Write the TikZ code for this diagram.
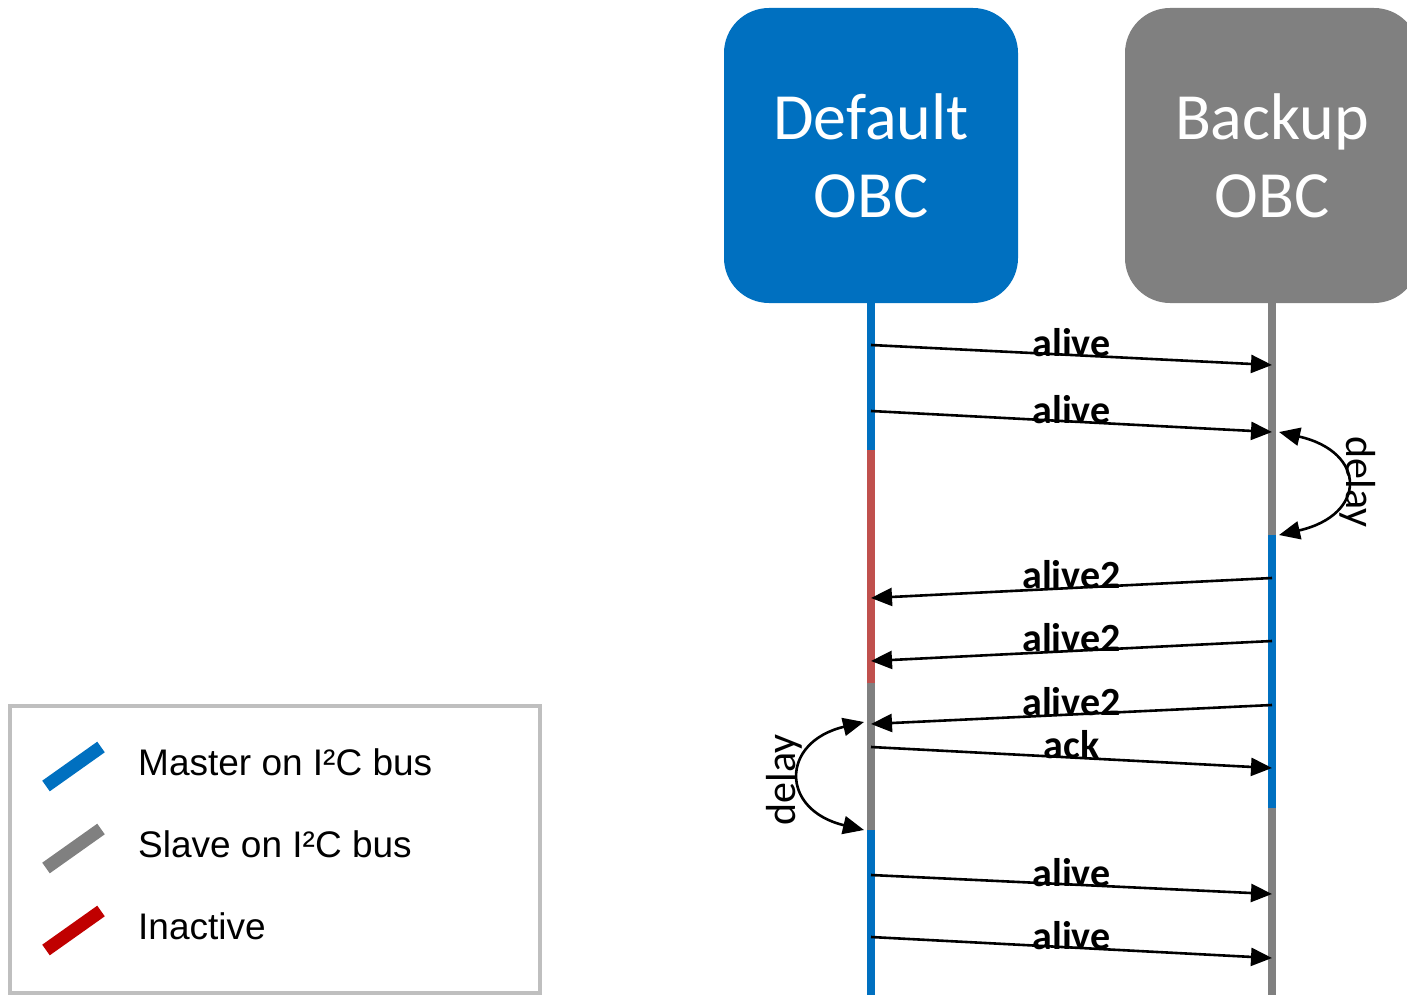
\documentclass[tikz,border=0pt]{standalone}
\usepackage{fontspec}
\setmainfont{Carlito}
\newfontfamily\arialfont{Liberation Sans}
\usetikzlibrary{arrows.meta}
\definecolor{obcblue}{HTML}{0070C0}
\definecolor{obcgray}{HTML}{808080}
\definecolor{lifered}{HTML}{C0504D}
\definecolor{legred}{HTML}{C00000}
\definecolor{legframe}{HTML}{BFBFBF}
\tikzset{
  obcbox/.style={rounded corners=45pt, minimum width=294pt, minimum height=295pt, inner sep=0pt,
    text=white, font=\fontsize{66}{78}\selectfont, align=center},
  life/.style={line width=8pt},
  msg/.style={line width=2.6pt, -{Triangle[length=21pt,width=18pt]}},
  delayarc/.style={line width=2.6pt, {Triangle[length=21pt,width=18pt]}-{Triangle[length=21pt,width=18pt]}},
  msglabel/.style={font=\bfseries\fontsize{40}{42}\selectfont, anchor=base, inner sep=0pt},
  delaylabel/.style={font=\fontsize{42}{44}\selectfont, inner sep=0pt},
  legbar/.style={line width=13pt},
  legtext/.style={font=\arialfont\fontsize{37}{40}\selectfont, anchor=base west, inner sep=0pt}
}
\begin{document}
\begin{tikzpicture}[x=1pt,y=-1pt]
\useasboundingbox (0,0) rectangle (1407,995);
\clip (0,0) rectangle (1407,995);
% boxes
\node[obcbox, fill=obcblue] (def) at (871,155.5) {Default\\OBC};
\node[obcbox, fill=obcgray] (bak) at (1272,155.5) {Backup\\OBC};
% lifelines
\coordinate (L0) at (871,303);
\coordinate (L1) at (871,450);
\coordinate (L2) at (871,683);
\coordinate (L3) at (871,830);
\coordinate (L4) at (871,995);
\coordinate (R0) at (1272,303);
\coordinate (R1) at (1272,535);
\coordinate (R2) at (1272,808);
\coordinate (R3) at (1272,995);
\draw[life, obcblue] (L0) -- (L1);
\draw[life, lifered] (L1) -- (L2);
\draw[life, obcgray] (L2) -- (L3);
\draw[life, obcblue] (L3) -- (L4);
\draw[life, obcgray] (R0) -- (R1);
\draw[life, obcblue] (R1) -- (R2);
\draw[life, obcgray] (R2) -- (R3);
% message end points
\coordinate (a1s) at (871,345); \coordinate (a1e) at (1272,365);
\coordinate (a2s) at (871,411); \coordinate (a2e) at (1272,432);
\coordinate (b1s) at (1272,578); \coordinate (b1e) at (871,598);
\coordinate (b2s) at (1272,641); \coordinate (b2e) at (871,661);
\coordinate (b3s) at (1272,705); \coordinate (b3e) at (871,724);
\coordinate (cks) at (871,747); \coordinate (cke) at (1272,768);
\coordinate (a3s) at (871,875); \coordinate (a3e) at (1272,894);
\coordinate (a4s) at (871,937); \coordinate (a4e) at (1272,958);
\draw[msg] (a1s) -- node[msglabel, yshift=-1pt] (t1) {alive} (a1e);
\draw[msg] (a2s) -- node[msglabel, yshift=-2pt] (t2) {alive} (a2e);
\draw[msg] (b1s) -- node[msglabel, yshift=0pt] (t3) {alive2} (b1e);
\draw[msg] (b2s) -- node[msglabel, yshift=0pt] (t4) {alive2} (b2e);
\draw[msg] (b3s) -- node[msglabel, yshift=-1pt] (t5) {alive2} (b3e);
\draw[msg] (cks) -- node[msglabel, yshift=-1pt] (t6) {ack} (cke);
\draw[msg] (a3s) -- node[msglabel, yshift=-2pt] (t7) {alive} (a3e);
\draw[msg] (a4s) -- node[msglabel, yshift=-2pt] (t8) {alive} (a4e);
% delays
\coordinate (d1a) at (1279,432); \coordinate (d1b) at (1279,535);
\draw[delayarc] (d1a) .. controls (1367,452) and (1367,515) .. (d1b);
\node[delaylabel, rotate=-90] (dl1) at (1358,482) {delay};
\coordinate (d2a) at (864,722); \coordinate (d2b) at (864,830);
\draw[delayarc] (d2a) .. controls (780,742) and (780,810) .. (d2b);
\node[delaylabel, rotate=90] (dl2) at (784,780) {delay};
% legend
\node[draw=legframe, line width=4pt, minimum width=530pt, minimum height=287pt, inner sep=0pt] (leg) at (275,849.5) {};
\draw[legbar, obcblue] (46,786) -- (101,747);
\draw[legbar, obcgray] (46,868) -- (101,829);
\draw[legbar, legred] (46,950) -- (101,911);
\node[legtext] (lt1) at (138,775) {Master on I²C bus};
\node[legtext] (lt2) at (138,857) {Slave on I²C bus};
\node[legtext] (lt3) at (138,939) {Inactive};
\end{tikzpicture}
\end{document}
